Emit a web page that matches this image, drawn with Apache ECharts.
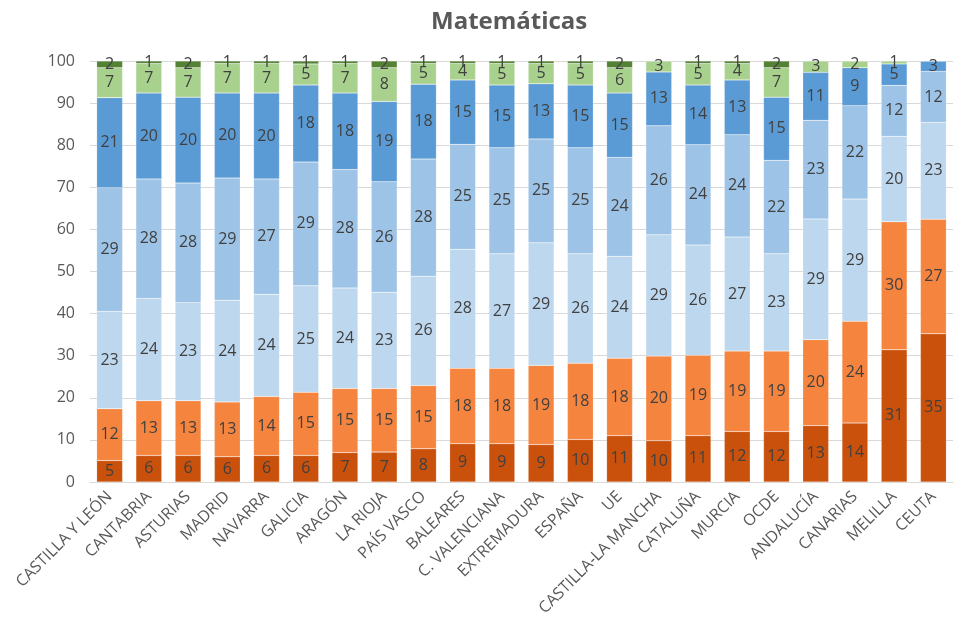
<!DOCTYPE html>
<html>
<head>
<meta charset="utf-8">
<script src="https://cdn.jsdelivr.net/npm/echarts@6/dist/echarts.min.js"></script>
<style>html,body{margin:0;padding:0;background:#fff}#chart{width:977px;height:623px}</style>
</head>
<body>
<div id="chart"></div>
<script>
const categories = ["CASTILLA Y LEÓN","CANTABRIA","ASTURIAS","MADRID","NAVARRA","GALICIA","ARAGÓN","LA RIOJA","PAÍS VASCO","BALEARES","C. VALENCIANA","EXTREMADURA","ESPAÑA","UE","CASTILLA-LA MANCHA","CATALUÑA","MURCIA","OCDE","ANDALUCÍA","CANARIAS","MELILLA","CEUTA"];
const s1 = [5.1, 6.3, 6.3, 6.0, 6.3, 6.3, 7.0, 7.1, 7.9, 9.1, 9.1, 8.9, 10.1, 11.0, 9.8, 11.0, 12.0, 12.0, 13.4, 14.0, 31.4, 35.2];
const s2 = [12.3, 13.0, 13.0, 13.0, 14.0, 15.0, 15.2, 15.1, 15.0, 17.9, 17.9, 18.8, 18.1, 18.4, 20.1, 19.1, 19.1, 19.1, 20.4, 24.2, 30.4, 27.2];
const s3 = [23.1, 24.3, 23.3, 24.2, 24.3, 25.3, 23.9, 22.9, 26.0, 28.3, 27.2, 29.1, 26.0, 24.2, 28.8, 26.2, 27.1, 23.1, 28.7, 29.0, 20.3, 23.0];
const s4 = [29.4, 28.4, 28.4, 29.0, 27.4, 29.4, 28.1, 26.2, 27.8, 24.9, 25.2, 24.7, 25.2, 23.5, 25.9, 23.8, 24.3, 22.2, 23.4, 22.2, 12.1, 12.1];
const s5 = [21.4, 20.4, 20.4, 20.2, 20.4, 18.3, 18.2, 19.1, 17.8, 15.3, 14.9, 13.1, 14.9, 15.3, 12.8, 14.2, 13.0, 15.0, 11.4, 9.0, 5.1, 2.5];
const s6 = [7.1, 7.0, 7.0, 7.0, 7.0, 5.0, 7.0, 8.0, 4.9, 3.9, 5.1, 4.8, 5.1, 6.0, 2.6, 5.1, 3.9, 7.0, 2.7, 1.6, 0.7, 0];
const s7 = [1.6, 0.6, 1.6, 0.6, 0.6, 0.7, 0.6, 1.6, 0.6, 0.6, 0.6, 0.6, 0.6, 1.6, 0, 0.6, 0.6, 1.6, 0, 0, 0, 0];
const yTicks = [0, 10, 20, 30, 40, 50, 60, 70, 80, 90, 100];

const seriesData = [s1, s2, s3, s4, s5, s6, s7];
const colors = ["#C9510C", "#F5843F", "#BDD7EE", "#9DC3E6", "#5B9BD5", "#A9D18E", "#548235"];

const chart = echarts.init(document.getElementById('chart'), null, {renderer: 'canvas'});
const FONT = "'Open Sans', 'Noto Sans', sans-serif";
chart.setOption({
  animation: false,
  backgroundColor: '#fff',
  title: {
    text: 'Matemáticas',
    left: 426,
    top: 5,
    textStyle: {fontFamily: FONT, fontSize: 24, fontWeight: 'bold', color: '#595959'}
  },
  grid: {left: 90, right: 24, top: 61, bottom: 141},
  xAxis: {
    type: 'category',
    data: categories,
    axisLine: {lineStyle: {color: '#D9D9D9', width: 1}},
    axisTick: {show: false},
    axisLabel: {rotate: 45, interval: 0, color: '#595959', fontFamily: FONT, fontSize: 16, margin: 12}
  },
  yAxis: {
    type: 'value',
    min: yTicks[0],
    max: yTicks[yTicks.length - 1],
    interval: 10,
    axisLine: {show: false},
    axisTick: {show: false},
    splitLine: {lineStyle: {color: '#D9D9D9', width: 1}},
    axisLabel: {color: '#595959', fontFamily: FONT, fontSize: 16, margin: 15}
  },
  series: seriesData.map((d, i) => ({
    type: 'bar',
    stack: 'total',
    data: d,
    barWidth: '66%',
    itemStyle: {color: colors[i], borderColor: 'rgba(255,255,255,0.35)', borderWidth: 0.5},
    label: {
      show: true,
      position: 'inside',
      color: '#404040',
      fontFamily: FONT,
      fontSize: 16,
      formatter: p => p.value > 0 ? String(Math.round(p.value)) : ''
    }
  }))
});
</script>
</body>
</html>
